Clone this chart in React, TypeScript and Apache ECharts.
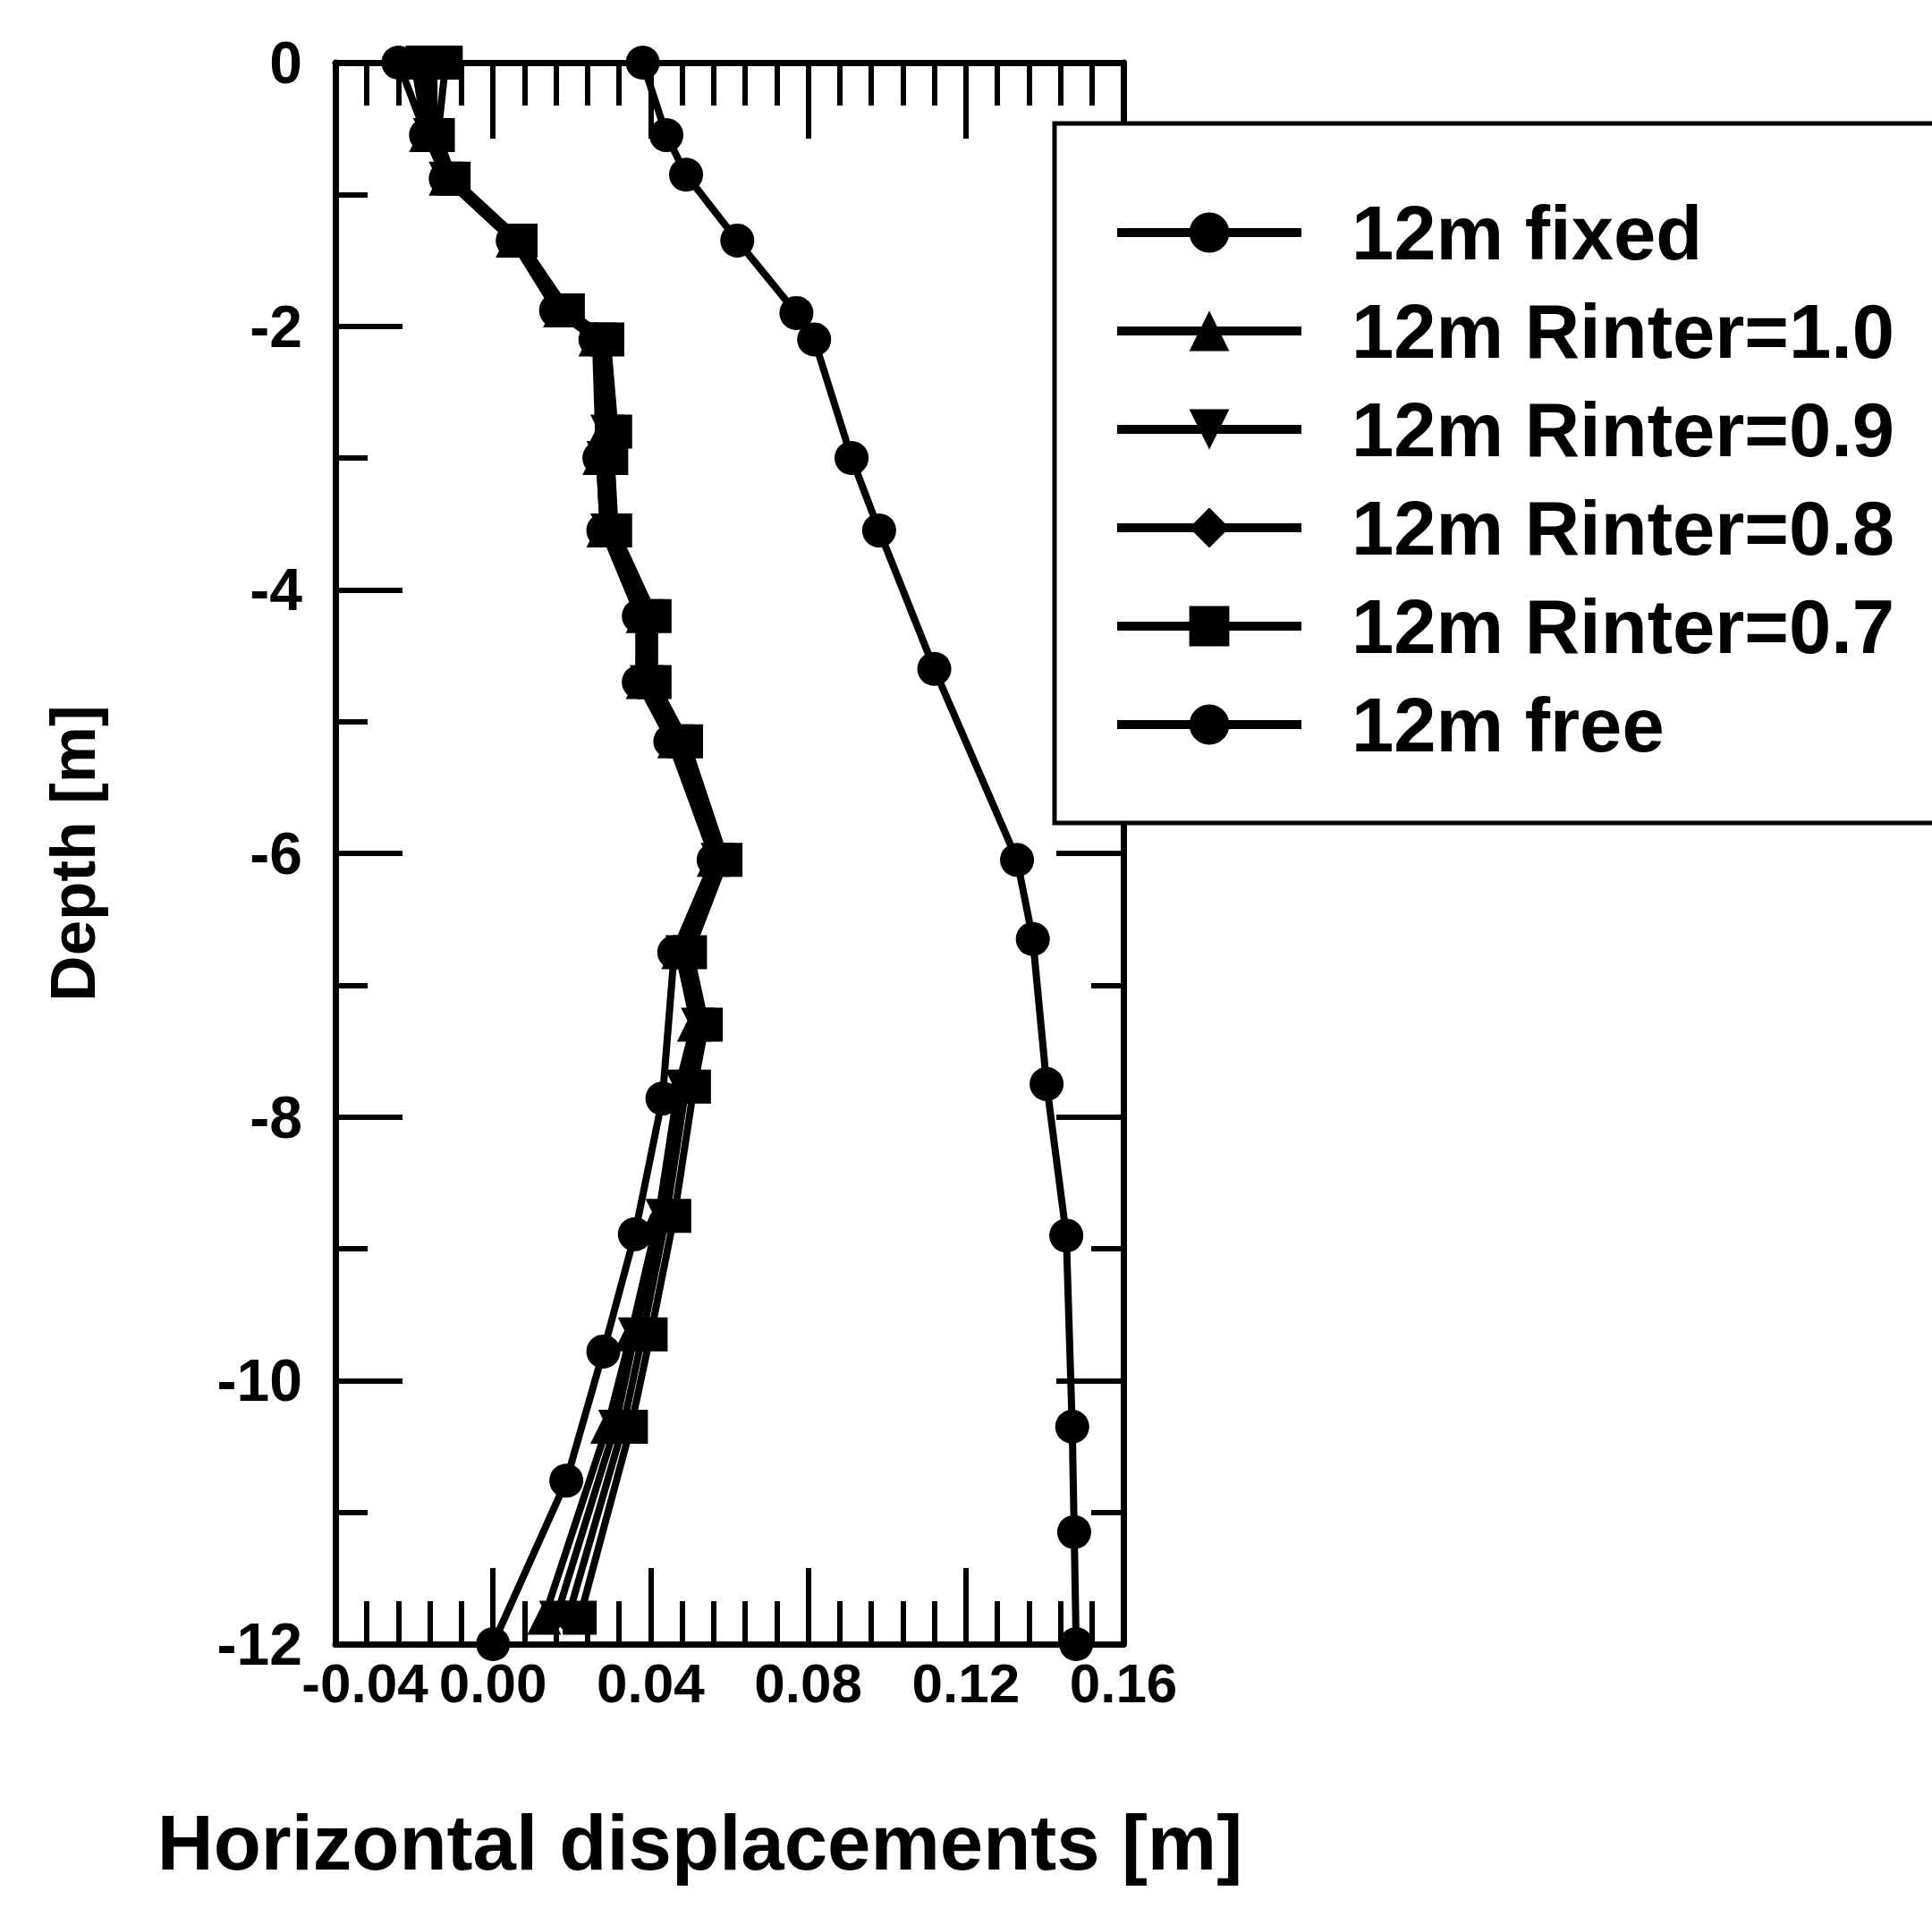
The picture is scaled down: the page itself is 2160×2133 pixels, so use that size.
import React, { useEffect, useRef } from 'react';
import * as echarts from 'echarts';

// ---- Data ----
const xTicks = [-0.04, 0.0, 0.04, 0.08, 0.12, 0.16];
const yTicks = [0, -2, -4, -6, -8, -10, -12];

const seriesNames = [
  '12m fixed',
  '12m Rinter=1.0',
  '12m Rinter=0.9',
  '12m Rinter=0.8',
  '12m Rinter=0.7',
  '12m free',
];

const fixedDepth = [0, -0.55, -0.88, -1.35, -1.88, -2.1, -3.0, -3.55, -4.2, -4.7, -5.15, -6.05, -6.75, -7.86, -8.89, -9.78, -10.76, -12];
const fixedX = [-0.024, -0.017, -0.012, 0.005, 0.016, 0.026, 0.027, 0.028, 0.037, 0.037, 0.045, 0.056, 0.046, 0.043, 0.036, 0.028, 0.0186, 0.0];

const rinterDepth = [0, -0.55, -0.88, -1.35, -1.88, -2.1, -2.8, -3.0, -3.55, -4.2, -4.7, -5.15, -6.05, -6.75, -7.3, -7.77, -8.75, -9.65, -10.35, -11.8];
const rinter10X = [-0.02, -0.017, -0.012, 0.005, 0.017, 0.026, 0.028, 0.027, 0.028, 0.038, 0.038, 0.046, 0.056, 0.047, 0.051, 0.047, 0.042, 0.035, 0.029, 0.013];
const rinter09X = [-0.018, -0.016, -0.012, 0.005, 0.017, 0.027, 0.029, 0.028, 0.029, 0.039, 0.039, 0.047, 0.057, 0.048, 0.052, 0.048, 0.043, 0.036, 0.031, 0.016];
const rinter08X = [-0.015, -0.015, -0.011, 0.006, 0.018, 0.028, 0.03, 0.029, 0.03, 0.04, 0.04, 0.048, 0.058, 0.049, 0.053, 0.049, 0.044, 0.038, 0.033, 0.019];
const rinter07X = [-0.012, -0.014, -0.01, 0.007, 0.019, 0.029, 0.031, 0.03, 0.031, 0.041, 0.041, 0.049, 0.059, 0.05, 0.054, 0.051, 0.046, 0.04, 0.035, 0.022];

const freeDepth = [0, -0.55, -0.85, -1.35, -1.9, -2.1, -3.0, -3.55, -4.6, -6.05, -6.65, -7.75, -8.9, -10.35, -11.15, -12];
const freeX = [0.038, 0.044, 0.049, 0.062, 0.077, 0.0815, 0.091, 0.098, 0.112, 0.133, 0.137, 0.1405, 0.1455, 0.147, 0.1475, 0.148];

const FONT = 'Liberation Sans';

function pairs(xs: number[], ds: number[]) {
  return xs.map((x, i) => [x, ds[i]]);
}

export default function App() {
  const ref = useRef<HTMLDivElement>(null);

  useEffect(() => {
    const chart = echarts.init(ref.current as HTMLDivElement, null, { renderer: 'svg' });

    const seriesDefs = [
      { name: seriesNames[0], data: pairs(fixedX, fixedDepth), symbol: 'circle', rotate: 0 },
      { name: seriesNames[1], data: pairs(rinter10X, rinterDepth), symbol: 'triangle', rotate: 0 },
      { name: seriesNames[2], data: pairs(rinter09X, rinterDepth), symbol: 'triangle', rotate: 180 },
      { name: seriesNames[3], data: pairs(rinter08X, rinterDepth), symbol: 'diamond', rotate: 0 },
      { name: seriesNames[4], data: pairs(rinter07X, rinterDepth), symbol: 'rect', rotate: 0 },
      { name: seriesNames[5], data: pairs(freeX, freeDepth), symbol: 'circle', rotate: 0 },
    ];

    const axisLine = { show: true, onZero: false, lineStyle: { color: '#000', width: 7 } };

    const xCommon = {
      type: 'value',
      min: xTicks[0],
      max: xTicks[xTicks.length - 1],
      interval: 0.04,
      splitLine: { show: false },
      axisLine,
      axisTick: { show: true, inside: true, length: 85, lineStyle: { color: '#000', width: 6 } },
      minorTick: { show: true, splitNumber: 5, length: 48, lineStyle: { color: '#000', width: 6 } },
    };
    const yCommon = {
      type: 'value',
      min: yTicks[yTicks.length - 1],
      max: yTicks[0],
      interval: 2,
      splitLine: { show: false },
      axisLine,
      axisTick: { show: true, inside: true, length: 75, lineStyle: { color: '#000', width: 6 } },
      minorTick: { show: true, splitNumber: 2, length: 36, lineStyle: { color: '#000', width: 6 } },
    };

    const option: any = {
      animation: false,
      backgroundColor: '#fff',
      grid: { left: 375, top: 70, width: 881, height: 1768, containLabel: false },
      xAxis: [
        {
          ...xCommon,
          position: 'bottom',
          axisLabel: {
            show: true,
            margin: 12,
            color: '#000',
            fontFamily: FONT,
            fontWeight: 'bold',
            fontSize: 62,
            formatter: (v: number) => (Math.abs(v - xTicks[0]) < 1e-9 ? '{first|' + v.toFixed(2) + '}' : v.toFixed(2)),
            rich: {
              first: {
                color: '#000',
                fontFamily: FONT,
                fontWeight: 'bold',
                fontSize: 62,
                padding: [0, 0, 0, 66],
              },
            },
          },
          name: 'Horizontal displacements [m]',
          nameLocation: 'middle',
          nameGap: 178,
          nameTextStyle: {
            color: '#000',
            fontFamily: FONT,
            fontWeight: 'bold',
            fontSize: 87,
            padding: [0, 66, 0, 0],
          },
        },
        { ...xCommon, position: 'top', axisLabel: { show: false } },
      ],
      yAxis: [
        {
          ...yCommon,
          position: 'left',
          axisLabel: {
            show: true,
            margin: 37,
            color: '#000',
            fontFamily: FONT,
            fontWeight: 'bold',
            fontSize: 66,
          },
          name: 'Depth [m]',
          nameLocation: 'middle',
          nameGap: 258,
          nameTextStyle: {
            color: '#000',
            fontFamily: FONT,
            fontWeight: 'bold',
            fontSize: 71,
          },
        },
        { ...yCommon, position: 'right', axisLabel: { show: false } },
      ],
      legend: {
        show: true,
        orient: 'vertical',
        left: 1239,
        top: 210,
        itemWidth: 206,
        itemHeight: 56,
        itemGap: 20,
        z: 100,
        data: seriesNames,
        lineStyle: { width: 10, color: '#000' },
        itemStyle: { color: '#000' },
        textStyle: {
          color: '#000',
          fontFamily: FONT,
          fontWeight: 'bold',
          fontSize: 85,
          lineHeight: 90,
          padding: [0, 0, 0, 51],
        },
      },
      graphic: [
        {
          type: 'rect',
          z: 50,
          shape: { x: 1179, y: 138, width: 1100, height: 782 },
          style: { fill: '#fff', stroke: '#000', lineWidth: 5 },
        },
      ],
      series: seriesDefs.map((s) => ({
        type: 'line',
        name: s.name,
        data: s.data,
        xAxisIndex: 0,
        yAxisIndex: 0,
        symbol: s.symbol,
        symbolRotate: s.rotate,
        symbolSize: 38,
        clip: false,
        lineStyle: { color: '#000', width: 8 },
        itemStyle: { color: '#000' },
        emphasis: { disabled: true },
      })),
    };

    chart.setOption(option);
    return () => chart.dispose();
  }, []);

  return (
    <div
      ref={ref}
      style={{ position: 'absolute', left: 0, top: 0, width: 2160, height: 2133, background: '#fff' }}
    />
  );
}
